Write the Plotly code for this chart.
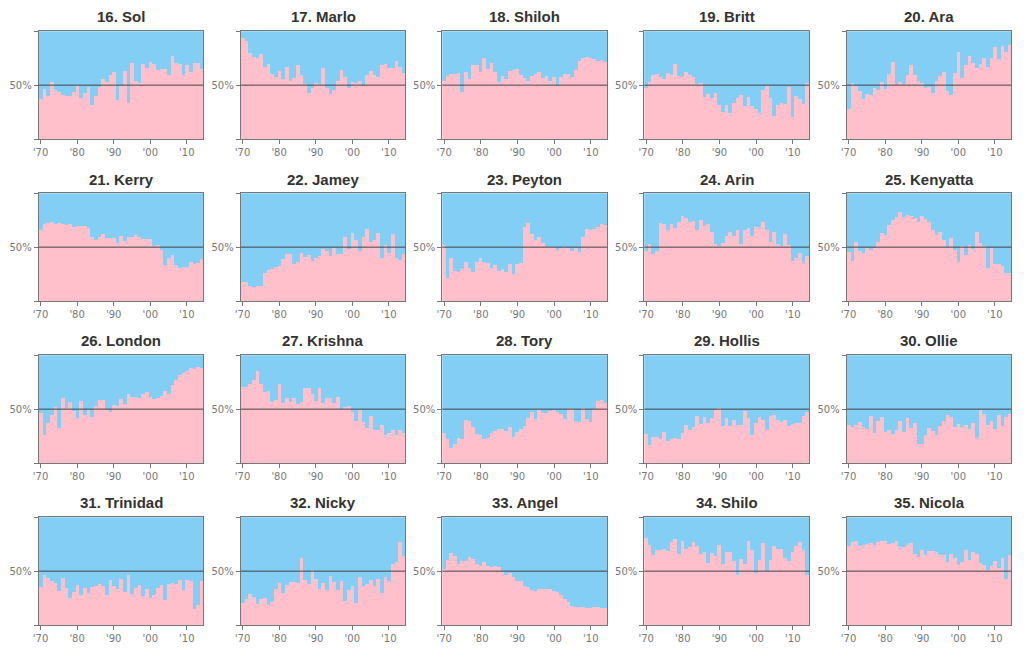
import plotly.graph_objects as go

years = list(range(1970, 2015))

names = ["16. Sol", "17. Marlo", "18. Shiloh", "19. Britt", "20. Ara",
         "21. Kerry", "22. Jamey", "23. Peyton", "24. Arin", "25. Kenyatta",
         "26. London", "27. Krishna", "28. Tory", "29. Hollis", "30. Ollie",
         "31. Trinidad", "32. Nicky", "33. Angel", "34. Shilo", "35. Nicola"]

# female share (%) per year, 1970-2014
sol = [36.5, 46, 40, 53, 45.5, 43.7, 41, 40, 40, 43.7, 49, 37.5, 42.7, 48, 31, 40, 48, 55, 53, 59,
       62, 35.6, 50, 63, 33, 70.6, 54, 52, 69, 66, 71.5, 69.7, 64, 65, 65, 59, 77, 70.6, 69.7, 59,
       68, 61.6, 70.6, 70, 65]
marlo = [93.8, 90.7, 80, 76, 75, 79, 67, 69, 60, 57.6, 63, 55.7, 67, 54, 56.7, 68, 59, 51, 42.7, 47,
         52, 51, 66, 47, 41.8, 45.5, 54, 64, 57.6, 47, 53, 52, 54, 50, 59, 63, 59, 57.6, 68, 69,
         66, 66, 72.4, 67, 61]
shiloh = [54, 58.5, 60, 60, 61, 43.7, 62, 55.7, 68, 68, 62, 75, 65, 70.6, 62, 53, 58.5, 55.7, 63, 64,
          65, 59, 56.7, 54, 58.5, 60, 62, 56.7, 58.5, 54, 57.6, 49, 57.6, 60, 60, 57.6, 64, 72.4, 75, 76,
          75, 74, 72.4, 73, 71.5]
britt = [47, 53, 59, 60, 57.6, 55, 61, 59, 69.7, 58.5, 57.6, 62, 59, 57.6, 51, 52, 39, 41.8, 38, 42.7,
         31.6, 25, 31.6, 24, 33, 38, 41, 30.7, 39, 30.7, 27.9, 24, 45.5, 49, 38, 21, 31.6, 33, 32.5, 48,
         20.4, 40, 37, 32.5, 52]
ara = [27.9, 52, 49, 44.6, 36.5, 41.8, 41, 47, 45.5, 53, 46.4, 60, 71.5, 50, 53, 51, 59, 68, 59, 54,
       52, 47, 48, 42, 54, 58.5, 62, 44.6, 41, 61, 80.8, 56.7, 68, 77, 70.6, 66, 69.7, 75, 67, 75,
       85.4, 74, 86.4, 80.8, 87.3]
kerry = [66, 71.5, 72.4, 73.4, 71.5, 72.4, 71.5, 70.6, 71.5, 68.7, 69.7, 69.7, 69.7, 67.8, 59.4, 56.7, 59.4, 62, 58.5, 58.5,
         58.5, 54, 60, 55.7, 59.4, 59.4, 61.3, 59.4, 57.6, 57.6, 57.6, 51, 52, 47, 33.4, 40, 42.7, 33.4, 30.7, 31.6,
         31.6, 36.2, 34.4, 35.3, 39]
jamey = [17.6, 17.6, 14, 13, 14, 14, 26, 28.8, 29.7, 31.6, 32.5, 39, 43.7, 43.7, 34.4, 36.2, 44.6, 41, 42.7, 37,
         40, 41.8, 48.3, 46.4, 41.8, 49, 43.7, 43.7, 59.4, 48.3, 63, 56.7, 46.4, 59.4, 67, 54.8, 56.7, 63, 40, 52,
         44.6, 62, 40, 38, 43.7]
peyton = [52, 21.4, 40, 27.9, 27, 29.7, 36.2, 30.7, 27, 36.2, 40, 36.2, 35.3, 30.7, 33.4, 27.9, 29.7, 27, 34.4, 25,
          34.4, 35.3, 68.7, 72.4, 62, 56.7, 59.4, 54, 50, 50, 50, 47, 49, 50, 49, 46.4, 49, 45.5, 59.4, 67,
          66, 67, 68.7, 71.5, 70.6]
arin = [46.4, 53, 43.7, 46.4, 72.4, 71.5, 66, 71.5, 67.8, 73.4, 79, 77, 73.4, 74.3, 66, 75, 69.7, 71.5, 64, 53,
        51, 54, 60, 64, 60, 66, 53, 66, 67.8, 60, 68.7, 68.7, 73.4, 66, 54.8, 64, 53, 51, 62, 52,
        37, 40, 44.6, 36.2, 41.8]
kenyatta = [45.5, 36.5, 54.8, 46.4, 44.6, 49, 47, 49, 54.8, 63, 61.3, 70.6, 75, 78, 82.7, 78, 80, 79, 77, 73.4,
            79, 76, 73.4, 66, 61.3, 64, 56.7, 50, 58.5, 47, 35.6, 51, 42, 52, 48.3, 64, 54, 51, 30.7, 49,
            34.4, 34.4, 32.5, 26, 26]
london = [46.4, 26, 37, 44.6, 52, 32.5, 60.4, 51, 56.7, 48.3, 41.8, 57.6, 44.6, 49, 42.7, 53, 58.5, 58.5, 50, 47,
          54, 53, 59.4, 54.8, 64, 61.3, 61.3, 60.4, 64, 66, 61.3, 59.4, 60.4, 62, 67, 64, 72.4, 77, 81.7, 83.6,
          85.4, 88.2, 87.3, 89.2, 88.2]
krishna = [70.6, 70.6, 73.4, 77, 85.4, 73.4, 66, 67, 56.7, 58.5, 73.4, 55.7, 60.4, 56.7, 60.4, 54.8, 56.7, 69.7, 69.7, 64,
           57.6, 69.7, 55.7, 60.4, 60.4, 55.7, 61.3, 50, 52, 53, 47, 39, 49, 38, 32.5, 43.7, 30.7, 30.7, 35.3, 26,
           27.9, 30.7, 26, 30.7, 27.9]
tory = [27.9, 22.3, 14, 17.6, 23.2, 22.3, 40, 39, 33.4, 27, 26, 22.3, 23.2, 27.9, 29.7, 31.6, 31.6, 29.7, 33.4, 24,
        28.8, 31.6, 34.4, 41.8, 47, 41, 50, 46.4, 46.4, 48.3, 49, 47, 45.5, 41, 50, 50, 39, 38, 51, 41,
        38, 50, 57.6, 58.5, 55.7]
hollis = [27, 16.7, 24, 24, 22.3, 28.8, 20.4, 22.3, 23.2, 22.3, 27.9, 35.3, 30.7, 33.4, 43.7, 36.2, 42.7, 37, 41.8, 49,
          51, 34.4, 41.8, 34.4, 40, 35.3, 35.3, 48.3, 41.8, 26, 37, 42.7, 40, 30.7, 43.7, 44.6, 40, 38, 40, 34.4,
          36.2, 37, 37, 43.7, 47]
ollie = [35.3, 33.4, 35.3, 38, 33.4, 31.6, 43.7, 27.9, 39, 42.7, 28.8, 30.7, 27, 30.7, 39, 28.8, 41.8, 32.5, 37, 17.6,
         17.6, 26, 32.5, 29.7, 26, 34.4, 39, 44.6, 42.7, 33.4, 36.2, 33.4, 35.3, 31.6, 37, 23.2, 49, 45.5, 35.3, 39,
         31.6, 44.6, 34.4, 42.7, 45.5]
trinidad = [35.3, 46.4, 43.7, 41, 39, 31.6, 43.7, 34.4, 25, 30.7, 37, 27.9, 34.4, 29.7, 35.3, 36.2, 38, 36.2, 27.9, 41.8,
            36.2, 33.4, 42.7, 30.7, 46.4, 28.8, 34.4, 37, 27, 33.4, 25, 27.9, 34.4, 37, 23.2, 38, 39, 38, 41.8, 32.5,
            41.8, 41, 14.9, 18.6, 41]
nicky = [20.4, 24, 28.8, 26, 19.5, 24, 25, 18.6, 21.4, 33.4, 39, 29.7, 37, 40, 40, 39, 62, 41.8, 38, 51,
         42.7, 33.4, 39, 32.5, 45.5, 40, 32.5, 41, 22.3, 32.5, 36.2, 20.4, 44.6, 36.2, 38, 41.8, 36.2, 42.7, 29.7, 44.6,
         41, 56.7, 58.5, 77, 64]
angel = [52, 60.4, 67, 64, 56.7, 59.4, 59.4, 63, 61.3, 56.7, 54.8, 58.5, 54.8, 53.9, 54.8, 53.9, 49.2, 46.4, 48.3, 44.6,
         40.9, 40.9, 36.2, 35.3, 32.5, 31.6, 33.4, 33.4, 33.4, 33.4, 31.6, 30.7, 27.9, 24.1, 21.4, 17.6, 16.7, 16.7, 16.7, 15.8,
         15.8, 16.7, 16.7, 15.8, 15.8]
shilo = [80.8, 74.3, 65, 69.7, 69.7, 70.6, 68.7, 77, 79.9, 66, 78, 70.6, 72.4, 77, 73.4, 66, 67.8, 57.6, 67, 64,
         74.3, 56.7, 67.8, 67.8, 59.4, 46.4, 61.3, 56.7, 78, 69.7, 48.3, 60.4, 76.2, 50.2, 60.4, 73.4, 70.6, 70.6, 62.2, 59.4,
         67.8, 73.4, 77, 69.7, 46.4]
nicola = [73.4, 77, 78, 73.4, 74.3, 75.2, 76.2, 74.3, 77, 78, 78, 75.2, 76.2, 78, 72.4, 72.4, 74.3, 76.2, 66, 63.2,
          69.7, 65, 68.7, 68.7, 67.8, 65, 65, 58.5, 66, 62.2, 55.7, 58.5, 69.7, 60.4, 67.8, 66, 57.6, 55.7, 51, 54.8,
          59.4, 52.9, 62.2, 42.7, 65]

series = [sol, marlo, shiloh, britt, ara, kerry, jamey, peyton, arin, kenyatta,
          london, krishna, tory, hollis, ollie, trinidad, nicky, angel, shilo, nicola]

x_tickvals = [1970, 1980, 1990, 2000, 2010]
x_ticktext = ["'70", "'80", "'90", "'00", "'10"]

PINK = "#FFC0CB"
BLUE = "#82CEF4"
OFF = 8  # default page body margin
W, H = 1035 - OFF, 664 - OFF

col_px = [(38.7, 203.3), (240.7, 405.3), (442.3, 607.3), (644.3, 809.3), (846.7, 1011.3)]
row_px = [(31.3, 139.0), (193.3, 301.0), (355.3, 463.0), (517.3, 625.0)]

fig = go.Figure()
layout = dict(
    width=W, height=H,
    margin=dict(l=0, r=0, t=0, b=0, autoexpand=False),
    paper_bgcolor="white", plot_bgcolor="white",
    barmode="stack", bargap=0,
    showlegend=False,
    font=dict(family="DejaVu Sans", color="#777777"),
)
annotations = []
shapes = []
tickfont = dict(family="DejaVu Sans", size=10, color="#777777")

for i, (name, vals) in enumerate(zip(names, series)):
    r, c = divmod(i, 5)
    sfx = "" if i == 0 else str(i + 1)
    xa, ya = "x" + sfx, "y" + sfx
    fig.add_trace(go.Bar(x=years, y=vals, xaxis=xa, yaxis=ya,
                         marker=dict(color=PINK, line=dict(width=0)), hoverinfo="skip"))
    fig.add_trace(go.Bar(x=years, y=[round(100 - v, 2) for v in vals], xaxis=xa, yaxis=ya,
                         marker=dict(color=BLUE, line=dict(width=0)), hoverinfo="skip"))
    x0, x1 = [p - OFF for p in col_px[c]]
    y0, y1 = [p - OFF for p in row_px[r]]
    layout["xaxis" + sfx] = dict(
        domain=[x0 / W, x1 / W], range=[1969.5, 2014.5], anchor=ya,
        tickvals=x_tickvals, ticktext=x_ticktext, tickfont=tickfont,
        showline=True, mirror=True, linecolor="#777777", linewidth=1,
        ticks="outside", ticklen=4, tickcolor="#777777", automargin=False,
        showgrid=False, zeroline=False, fixedrange=True)
    layout["yaxis" + sfx] = dict(
        domain=[1 - y1 / H, 1 - y0 / H], range=[0, 100], anchor=xa,
        tickvals=[0, 50, 100], ticktext=["", "50%", ""], tickfont=tickfont,
        showline=True, mirror=True, linecolor="#777777", linewidth=1,
        ticks="outside", ticklen=4, tickcolor="#777777", automargin=False,
        showgrid=False, zeroline=False, fixedrange=True)
    shapes.append(dict(type="line", xref=xa + " domain", yref=ya, x0=0, x1=1, y0=50, y1=50,
                       line=dict(color="#444444", width=1), layer="above"))
    annotations.append(dict(text="<b>" + name + "</b>", xref="paper", yref="paper",
                            x=(x0 + x1) / 2 / W, y=1 - (y0 - 14.3) / H,
                            xanchor="center", yanchor="middle", showarrow=False,
                            font=dict(family="Liberation Sans", size=15, color="#333333")))

layout["annotations"] = annotations
layout["shapes"] = shapes
fig.update_layout(**layout)
fig.write_html("out.html")
